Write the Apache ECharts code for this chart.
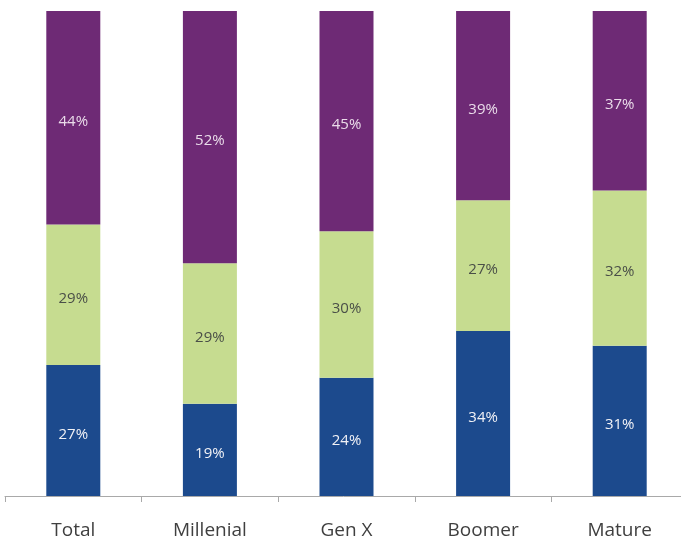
<!DOCTYPE html>
<html>
<head>
<meta charset="utf-8">
<script src="https://cdn.jsdelivr.net/npm/echarts@6/dist/echarts.min.js"></script>
<style>html,body{margin:0;padding:0;background:#fff}#c{width:681px;height:544px}</style>
</head>
<body>
<div id="c"></div>
<script>
var categories = ['Total', 'Millenial', 'Gen X', 'Boomer', 'Mature'];
var blueValues = [27, 19, 24.4, 34, 31];
var greenValues = [29, 29, 30.2, 27, 32];
var purpleValues = [44, 52, 45.4, 39, 37];

var chart = echarts.init(document.getElementById('c'), null, {renderer: 'canvas'});
var fontFam = '"Open Sans", "DejaVu Sans", sans-serif';
function lbl(color) {
  return {
    show: true, position: 'inside', offset: [0, 4], color: color, fontSize: 15, fontFamily: fontFam,
    formatter: function (p) { return Math.round(p.value) + '%'; }
  };
}
chart.setOption({
  animation: false,
  backgroundColor: '#fff',
  grid: {left: 5, right: -7, top: 11, bottom: 48, containLabel: false, outerBoundsMode: 'none'},
  xAxis: {
    type: 'category', data: categories,
    axisLine: {lineStyle: {color: '#a9a9a9', width: 1}},
    axisTick: {show: true, length: 6, lineStyle: {color: '#a9a9a9'}},
    axisLabel: {color: '#3f3f3f', fontSize: 19, fontFamily: fontFam, margin: 25}
  },
  yAxis: {type: 'value', min: 0, max: 100, show: false, splitLine: {show: false}},
  series: [
    {name: 'Blue', type: 'bar', stack: 's', data: blueValues, barWidth: 54,
     itemStyle: {color: '#1c4a8d'}, label: lbl('#f2f2f6')},
    {name: 'Green', type: 'bar', stack: 's', data: greenValues, barWidth: 54,
     itemStyle: {color: '#c6dc90'}, label: lbl('#4a4f48')},
    {name: 'Purple', type: 'bar', stack: 's', data: purpleValues, barWidth: 54,
     itemStyle: {color: '#6e2a75'}, label: lbl('#eadcea')}
  ]
});
</script>
</body>
</html>
